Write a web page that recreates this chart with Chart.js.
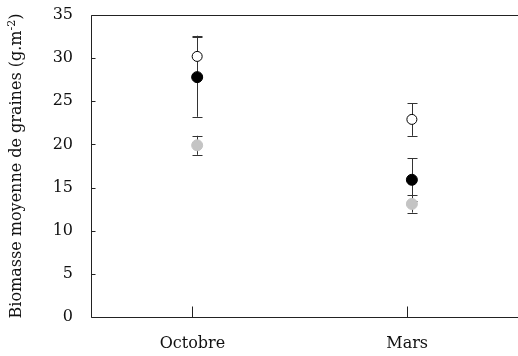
<!DOCTYPE html>
<html>
<head>
<meta charset="utf-8">
<script src="https://cdn.jsdelivr.net/npm/chart.js@4"></script>
<style>
  body { margin: 0; background: #fff; }
  canvas { display: block; }
</style>
</head>
<body>
<canvas id="graphe" width="518" height="356"></canvas>
<script>
// Données
const categories = ["Octobre", "Mars"];
const moyOuvert = [30.2, 22.9];
const errOuvert = [2.4, 1.9];
const moyNoir = [27.8, 15.9];
const errNoir = [4.6, 2.5];
const moyGris = [19.9, 13.1];
const errGris = [1.1, 1.0];
const yTicks = [0, 5, 10, 15, 20, 25, 30, 35];

const POLICE = "'DejaVu Serif', 'Liberation Serif', serif";
const DECALAGE = 0.022; // léger décalage des points par rapport au tick

function points(moy, err) {
  return moy.map((m, i) => ({ x: i + DECALAGE, y: m, err: err[i] }));
}

// Barres d'erreur, dessinées sous les points
const barresErreur = {
  id: "barresErreur",
  beforeDatasetsDraw(chart) {
    const ctx = chart.ctx;
    const xs = chart.scales.x, ys = chart.scales.y;
    ctx.save();
    ctx.strokeStyle = "#333";
    ctx.lineWidth = 1;
    chart.data.datasets.forEach(ds => {
      ds.data.forEach(p => {
        const x = Math.round(xs.getPixelForValue(p.x)) + 0.5;
        const y1 = ys.getPixelForValue(p.y + p.err);
        const y2 = ys.getPixelForValue(p.y - p.err);
        ctx.beginPath();
        ctx.moveTo(x, y1); ctx.lineTo(x, y2);
        ctx.moveTo(x - 5, Math.round(y1) + 0.5); ctx.lineTo(x + 5, Math.round(y1) + 0.5);
        ctx.moveTo(x - 5, Math.round(y2) + 0.5); ctx.lineTo(x + 5, Math.round(y2) + 0.5);
        ctx.stroke();
      });
    });
    ctx.restore();
  }
};

// Cadre, ticks intérieurs et titre vertical
const cadre = {
  id: "cadre",
  afterDraw(chart) {
    const ctx = chart.ctx;
    const a = chart.chartArea;
    const xs = chart.scales.x, ys = chart.scales.y;
    const l = Math.round(a.left) + 0.5, t = Math.round(a.top) + 0.5, b = Math.round(a.bottom) + 0.5;
    ctx.save();
    ctx.strokeStyle = "#222";
    ctx.lineWidth = 1;
    ctx.beginPath();
    ctx.moveTo(chart.width, t); ctx.lineTo(l, t); ctx.lineTo(l, b); ctx.lineTo(chart.width, b);
    yTicks.forEach(v => {
      const y = Math.round(ys.getPixelForValue(v)) + 0.5;
      ctx.moveTo(l, y); ctx.lineTo(l + 4, y);
    });
    categories.forEach((c, i) => {
      const x = Math.round(xs.getPixelForValue(i)) + 0.5;
      ctx.moveTo(x, b); ctx.lineTo(x, b - 11);
    });
    ctx.stroke();

    // titre de l'axe y avec exposant
    const principal = "Biomasse moyenne de graines (g.m";
    const expo = "-2";
    const fin = ")";
    ctx.translate(17, (a.top + a.bottom) / 2);
    ctx.rotate(-Math.PI / 2);
    ctx.fillStyle = "#111";
    ctx.textBaseline = "middle";
    ctx.font = "16px " + POLICE;
    const w1 = ctx.measureText(principal).width;
    const w3 = ctx.measureText(fin).width;
    ctx.font = "11px " + POLICE;
    const w2 = ctx.measureText(expo).width;
    let x = -(w1 + w2 + w3) / 2;
    ctx.font = "16px " + POLICE;
    ctx.fillText(principal, x, 0);
    x += w1;
    ctx.font = "11px " + POLICE;
    ctx.fillText(expo, x, -5);
    x += w2;
    ctx.font = "16px " + POLICE;
    ctx.fillText(fin, x, 0);
    ctx.restore();
  }
};

new Chart(document.getElementById("graphe"), {
  type: "scatter",
  data: {
    datasets: [
      {
        label: "ouvert",
        data: points(moyOuvert, errOuvert),
        backgroundColor: "#fff",
        borderColor: "#000",
        borderWidth: 1,
        pointRadius: 5,
        order: 0
      },
      {
        label: "noir",
        data: points(moyNoir, errNoir),
        backgroundColor: "#000",
        borderColor: "#000",
        borderWidth: 1,
        pointRadius: 5.5,
        order: 1
      },
      {
        label: "gris",
        data: points(moyGris, errGris),
        backgroundColor: "#c4c4c4",
        borderColor: "#c4c4c4",
        borderWidth: 1,
        pointRadius: 5.5,
        order: 2
      }
    ]
  },
  options: {
    responsive: false,
    animation: false,
    layout: { padding: { top: 15, right: 0, left: 0, bottom: 0 } },
    plugins: {
      legend: { display: false },
      tooltip: { enabled: false }
    },
    scales: {
      x: {
        type: "linear",
        min: -0.4725,
        max: 1.486,
        grid: { display: false, drawTicks: false },
        border: { display: false },
        afterBuildTicks: s => { s.ticks = categories.map((c, i) => ({ value: i })); },
        afterFit: s => {
          s.height = 39;
          s.paddingLeft = 0; s.paddingRight = 0;
        },
        ticks: {
          padding: 17,
          color: "#111",
          font: { family: POLICE, size: 16 },
          maxRotation: 0,
          autoSkip: false,
          callback: v => categories[v] ?? ""
        }
      },
      y: {
        min: 0,
        max: 35,
        grid: { display: false, drawTicks: false },
        border: { display: false },
        afterBuildTicks: s => { s.ticks = yTicks.map(v => ({ value: v })); },
        afterFit: s => {
          s.width = 91;
          s.paddingTop = 0; s.paddingBottom = 0;
        },
        ticks: {
          padding: 18,
          color: "#111",
          font: { family: POLICE, size: 16 }
        }
      }
    }
  },
  plugins: [barresErreur, cadre]
});
</script>
</body>
</html>
